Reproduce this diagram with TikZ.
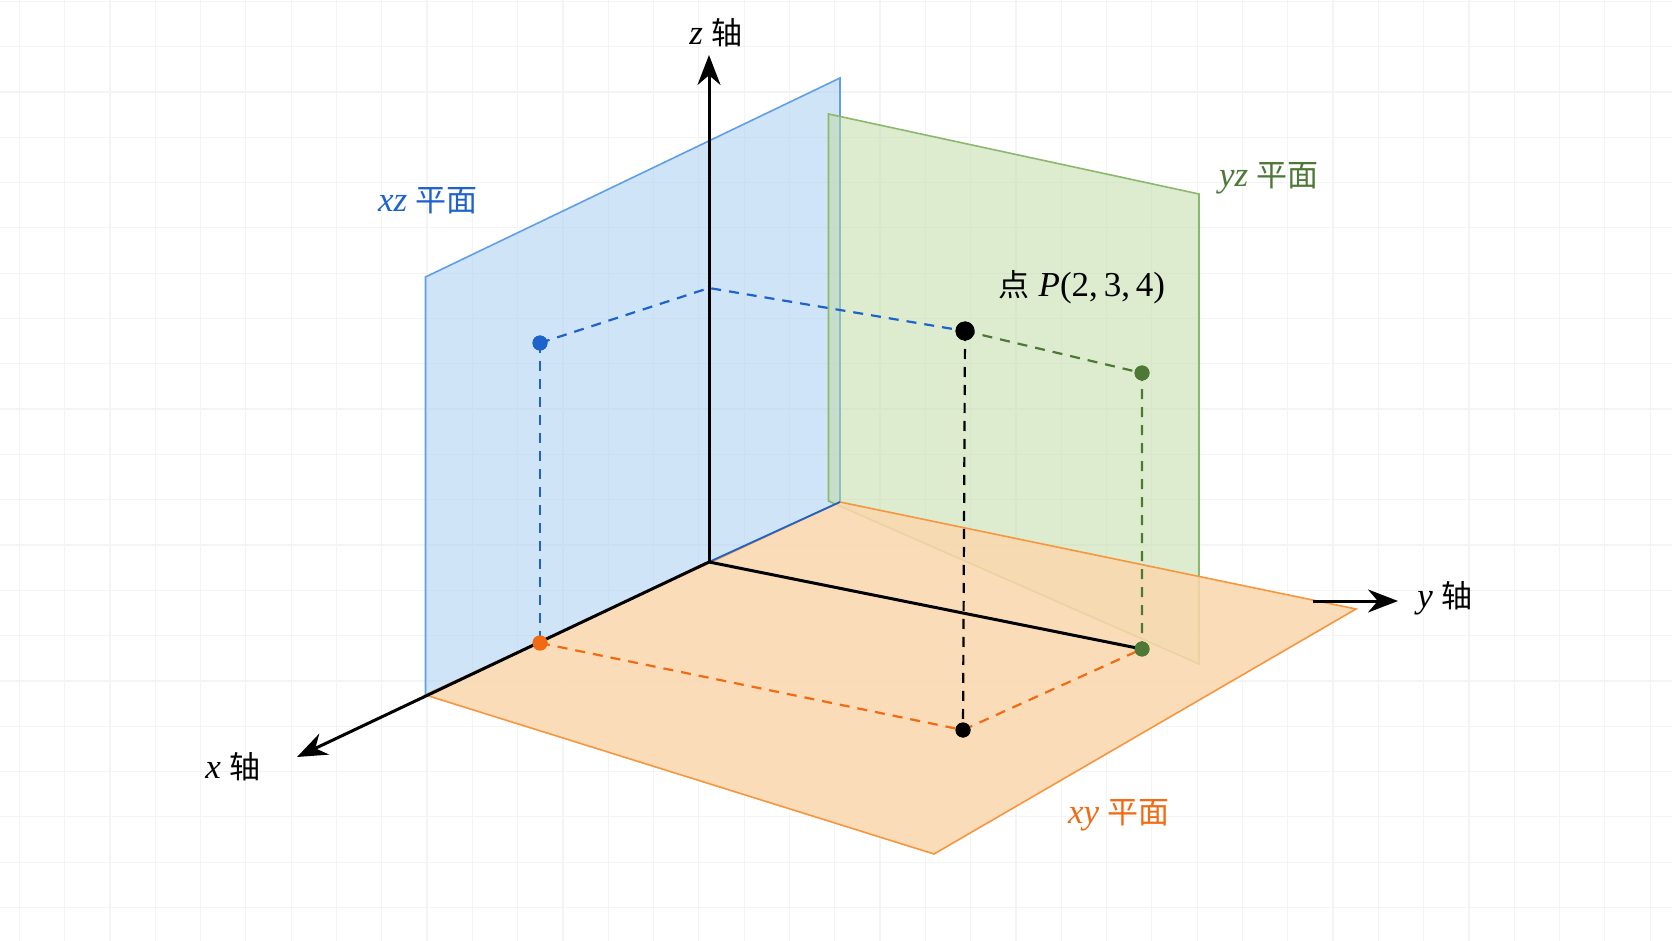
\documentclass[tikz,border=0pt]{standalone}
\usepackage{fontspec}
\setmainfont{Liberation Serif}
\newfontfamily\cjk{Noto Sans CJK SC}
\usetikzlibrary{arrows.meta}
\definecolor{bluefill}{HTML}{A3CAF1}
\definecolor{greenfill}{HTML}{BDDBA1}
\definecolor{orangefill}{HTML}{FBD7AC}
\definecolor{blueedge}{HTML}{5F9FE8}
\definecolor{greenedge}{HTML}{8BB86C}
\definecolor{orangeedge}{HTML}{F6963F}
\definecolor{bluedk}{HTML}{1E62CC}
\definecolor{greendk}{HTML}{4E7836}
\definecolor{orangedk}{HTML}{F26A12}
\definecolor{gridc}{HTML}{F4F4F4}
\newcommand{\zhtxt}[1]{{\cjk\fontsize{15.5}{19}\selectfont #1}}
\begin{document}
\begin{tikzpicture}[x=0.5pt,y=-0.5pt,
  gridline/.style={gridc,line width=0.6pt},
  planeedge/.style={line width=0.8pt},
  axis/.style={black,line width=1.5pt},
  axtip/.style={-{Stealth[length=15pt,width=11.5pt]}},
  dashline/.style={line width=1.1pt,dash pattern=on 5pt off 4pt},
  dot/.style={circle,inner sep=0pt,minimum size=7.5pt},
  bigdot/.style={circle,inner sep=0pt,minimum size=9.5pt,fill=black},
  lbl/.style={inner sep=0pt,font=\fontsize{17.5}{21}\selectfont}]
\useasboundingbox (0,0) rectangle (1672,941);
\fill[white] (0,0) rectangle (1672,941);
% grid
\foreach \i in {0,...,36} \draw[gridline] ({19.3+45.3*\i},0) -- ++(0,941);
\foreach \j in {0,...,20} \draw[gridline] (0,{1.4+45.3*\j}) -- ++(1672,0);
% planes
\fill[bluefill,fill opacity=0.5] (425.5,277) -- (840,78) -- (840,502) -- (425.5,695) -- cycle;
\draw[blueedge,planeedge] (425.5,277) -- (840,78) -- (840,502) -- (425.5,695) -- cycle;
\fill[greenfill,fill opacity=0.5] (828.5,114) -- (1199,194) -- (1199,664) -- (828.5,501) -- cycle;
\draw[greenedge,planeedge] (828.5,114) -- (1199,194) -- (1199,664) -- (828.5,501) -- cycle;
\fill[orangefill,fill opacity=0.85] (425.5,695) -- (840,502) -- (1356,609) -- (934,854) -- cycle;
\draw[orangeedge,planeedge] (425.5,695) -- (840,502) -- (1356,609) -- (934,854) -- cycle;
% coordinates
\coordinate (O) at (709,562);
\coordinate (ztip) at (709,55);
\coordinate (xtip) at (297,757);
\coordinate (ystart) at (1313,601);
\coordinate (ytip) at (1398,601);
\coordinate (Bc) at (840,502);
\draw[bluedk,line width=0.9pt] (O) -- (Bc);
% points
\node[bigdot] (P) at (965,331) {};
\node[dot,fill=bluedk] (Pxz) at (540,343) {};
\node[dot,fill=greendk] (Pyz) at (1142,373) {};
\node[dot,fill=black] (Pxy) at (963,730) {};
\node[dot,fill=orangedk] (Px) at (540,643) {};
\node[dot,fill=greendk] (Py) at (1142,649) {};
\coordinate (Pz) at (709,288);
% dashed lines
\draw[dashline,bluedk] (Pxz.center) -- (Pz) -- (P.center);
\draw[dashline,bluedk] (Pxz.center) -- (Px.center);
\draw[dashline,greendk] (P.center) -- (Pyz.center) -- (Py.center);
\draw[dashline,black] (P.center) -- (Pxy.center);
\draw[dashline,orangedk] (Px.center) -- (Pxy.center) -- (Py.center);
% axes
\draw[axis,axtip] (O) -- (ztip);
\draw[axis,axtip] (O) -- (xtip);
\draw[axis] (O) -- (Py.center);
\draw[axis,axtip] (ystart) -- (ytip);
% dots on top
\node[bigdot] at (P) {};
\node[dot,fill=bluedk] at (Pxz) {};
\node[dot,fill=greendk] at (Pyz) {};
\node[dot,fill=orangedk] at (Px) {};
\node[dot,fill=greendk] at (Py) {};
\node[dot,fill=black] at (Pxy) {};
% labels
\node[lbl] (zl) at (716,33) {\textit{z} \zhtxt{轴}};
\node[lbl] (xl) at (233,767) {\textit{x} \zhtxt{轴}};
\node[lbl] (yl) at (1445,598) {\textit{y} \zhtxt{轴}};
\node[lbl,text=bluedk] (xzl) at (428,201) {\textit{xz} \zhtxt{平面}};
\node[lbl,text=greendk] (yzl) at (1269,178) {\textit{yz} \zhtxt{平面}};
\node[lbl,text=orangedk] (xyl) at (1119,815) {\textit{xy} \zhtxt{平面}};
\node[lbl] (Pl) at (1082,287) {\zhtxt{点} \textit{P}(2,\,3,\,4)};
\end{tikzpicture}
\end{document}
